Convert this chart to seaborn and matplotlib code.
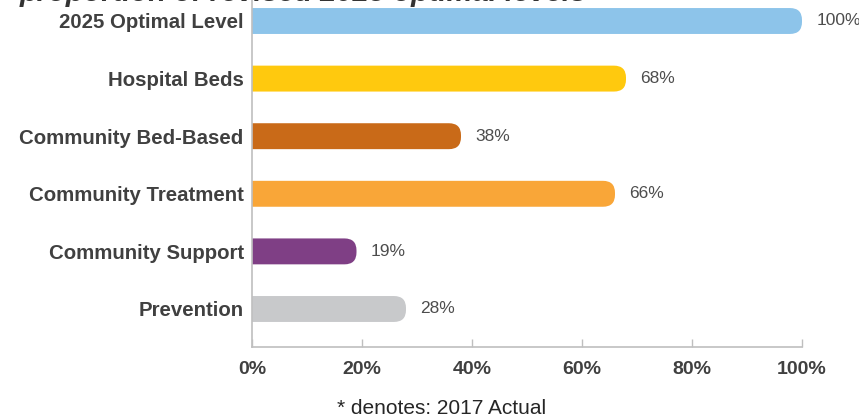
import matplotlib
matplotlib.use("Agg")
import matplotlib.pyplot as plt
from matplotlib.patches import FancyBboxPatch
import seaborn as sns
import pandas as pd

categories = ["2025 Optimal Level", "Hospital Beds", "Community Bed-Based",
              "Community Treatment", "Community Support", "Prevention"]
values = [100, 68, 38, 66, 19, 28]
colors = ["#8DC4EA", "#FFC90E", "#C96A18", "#F9A638", "#7F3F85", "#C8C9CB"]
xticks = [0, 20, 40, 60, 80, 100]
title = "proportion of revised 2025 optimal levels"
footnote = "* denotes: 2017 Actual"

sns.set_theme(style="white")
plt.rcParams["font.family"] = ["Liberation Sans", "DejaVu Sans"]

W, H = 859, 419
fig = plt.figure(figsize=(W / 100, H / 100), dpi=100)
ax = fig.add_axes([252 / W, (H - 347) / H, 550 / W, 354.8 / H])

df = pd.DataFrame({"category": categories, "value": values})
sns.barplot(data=df, x="value", y="category", hue="category",
            palette=colors, width=0.45, legend=False, ax=ax, saturation=1)

ax.set_xlim(0, 100)
ax.set_ylim(5.66, -0.5)

# rounded right ends: radius in pixels converted to data units
r_px = 12
rx = r_px * 100 / 550
ry = r_px / 57.6
for p in list(ax.patches):
    x0, y0, w, h = p.get_x(), p.get_y(), p.get_width(), p.get_height()
    fc = p.get_facecolor()
    p.remove()
    ax.add_patch(FancyBboxPatch((x0 - rx, y0), w + rx, h,
                                boxstyle=f"round,pad=0,rounding_size={rx}",
                                mutation_aspect=ry / rx,
                                facecolor=fc, edgecolor="none", zorder=2))

for i, v in enumerate(values):
    ax.text(v + 2.6, i, f"{v}%", va="center", ha="left", fontsize=12.5,
            color="#4D4D4D", clip_on=False)

ax.set_xticks(xticks)
ax.set_xticklabels([f"{t}%" for t in xticks], fontsize=14, fontweight="bold",
                   color="#404040")
ax.set_yticks(range(len(categories)))
ax.set_yticklabels(categories, fontsize=14.7, fontweight="bold", color="#404040")
ax.tick_params(axis="x", direction="in", length=6, width=1, color="#BFBFBF", pad=10,
               bottom=True)
ax.tick_params(axis="y", length=0, pad=6)
ax.set_xlabel("")
ax.set_ylabel("")

for s in ["top", "right"]:
    ax.spines[s].set_visible(False)
for s in ["left", "bottom"]:
    ax.spines[s].set_color("#BFBFBF")
    ax.spines[s].set_linewidth(1.2)

fig.text(20 / W, 1 - 1 / H, title, ha="left", va="baseline", fontsize=21,
         fontweight="bold", fontstyle="italic", color="#333333")
fig.text(442 / W, 1 - 408 / H, footnote, ha="center", va="center", fontsize=15,
         color="#262626")

fig.savefig("out.png", dpi=100)
